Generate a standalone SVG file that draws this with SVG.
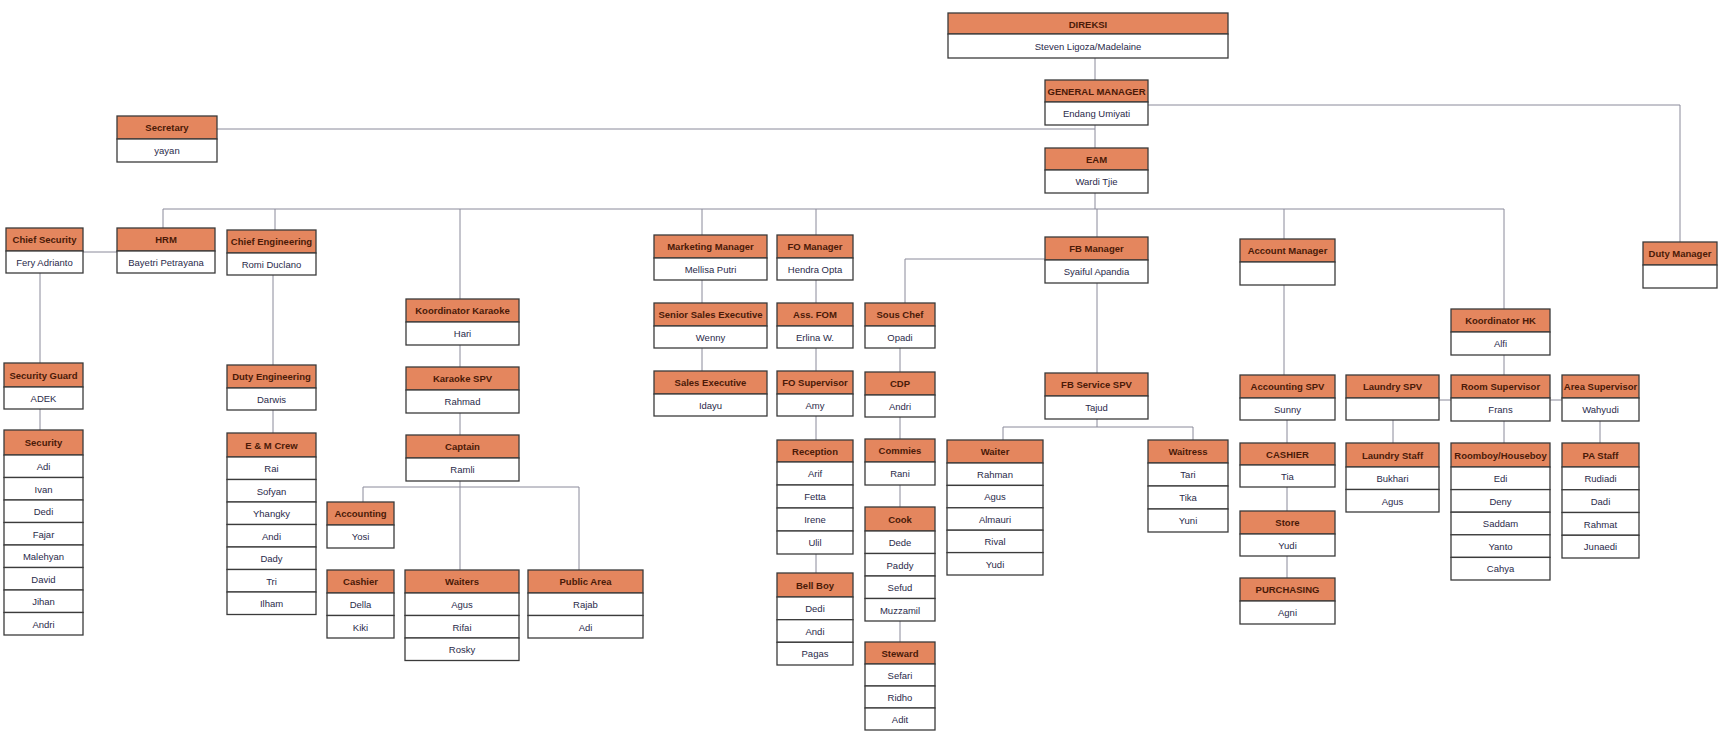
<svg xmlns="http://www.w3.org/2000/svg" width="1724" height="731" viewBox="0 0 1724 731">
<style>
.h{fill:#E4865E;stroke:#3b3b3b;stroke-width:1.3}
.b{fill:#ffffff;stroke:#3b3b3b;stroke-width:1.3}
.ht{font-family:"Liberation Sans Narrow","Liberation Sans",Arial,sans-serif;font-size:9.5px;font-weight:bold;fill:#4a1a08;text-anchor:middle}
.bt{font-family:"Liberation Sans Narrow","Liberation Sans",Arial,sans-serif;font-size:9.5px;fill:#2a2a4a;text-anchor:middle}
.c{fill:none;stroke:#8a8a9a;stroke-width:1}
</style>
<rect width="1724" height="731" fill="#ffffff"/>
<g id="connectors">
<path class="c" d="M1095 58V80M1095 125V148M1095 193V209"/>
<path class="c" d="M217 129H1095"/>
<path class="c" d="M1148 105H1680V242"/>
<path class="c" d="M163 209H1504"/>
<path class="c" d="M163 209V228M275 209V230M83 252H117"/>
<path class="c" d="M40 273V363M40 409V430"/>
<path class="c" d="M273 275V365M273 410V433"/>
<path class="c" d="M460 209V299M460 345V367M460 413V435M460 481V570M363 487H579M363 487V502M579 487V570"/>
<path class="c" d="M702 209V235M702 280V303M702 348V371"/>
<path class="c" d="M816 209V235M816 280V303M816 348V371M816 416V440M816 554V573"/>
<path class="c" d="M1097 209V237M1045 259H905V303M900 348V372M900 417V439M900 485V507M900 621V642"/>
<path class="c" d="M1097 283V373M1097 419V427M1003 427H1193M1003 427V440M1193 427V440"/>
<path class="c" d="M1284 209V239M1284 285V375M1287 420V443M1287 487V511M1287 556V578"/>
<path class="c" d="M1504 209V309M1504 355V375M1439 400H1451M1550 400H1562M1504 421V443M1393 420V443M1600 421V443"/>
</g>
<g id="direksi"><rect class="h" x="948" y="13" width="280" height="21"/><rect class="b" x="948" y="34" width="280" height="24"/><text class="ht" x="1088" y="27.5">DIREKSI</text><text class="bt" x="1088" y="49.5">Steven Ligoza/Madelaine</text></g>
<g id="gm"><rect class="h" x="1045" y="80" width="103" height="22"/><rect class="b" x="1045" y="102" width="103" height="23"/><text class="ht" x="1096.5" y="94.5">GENERAL MANAGER</text><text class="bt" x="1096.5" y="117">Endang Umiyati</text></g>
<g id="eam"><rect class="h" x="1045" y="148" width="103" height="22"/><rect class="b" x="1045" y="170" width="103" height="23"/><text class="ht" x="1096.5" y="162.5">EAM</text><text class="bt" x="1096.5" y="185">Wardi Tjie</text></g>
<g id="secretary"><rect class="h" x="117" y="116" width="100" height="23"/><rect class="b" x="117" y="139" width="100" height="23"/><text class="ht" x="167" y="131">Secretary</text><text class="bt" x="167" y="154">yayan</text></g>
<g id="chief-security"><rect class="h" x="6" y="228" width="77" height="23"/><rect class="b" x="6" y="251" width="77" height="22"/><text class="ht" x="44.5" y="243">Chief Security</text><text class="bt" x="44.5" y="265.5">Fery Adrianto</text></g>
<g id="hrm"><rect class="h" x="117" y="228" width="98" height="23"/><rect class="b" x="117" y="251" width="98" height="22"/><text class="ht" x="166" y="243">HRM</text><text class="bt" x="166" y="265.5">Bayetri Petrayana</text></g>
<g id="chief-eng"><rect class="h" x="227" y="230" width="89" height="23"/><rect class="b" x="227" y="253" width="89" height="22"/><text class="ht" x="271.5" y="245">Chief Engineering</text><text class="bt" x="271.5" y="267.5">Romi Duclano</text></g>
<g id="security-guard"><rect class="h" x="4" y="363" width="79" height="24"/><rect class="b" x="4" y="387" width="79" height="22"/><text class="ht" x="43.5" y="378.5">Security Guard</text><text class="bt" x="43.5" y="401.5">ADEK</text></g>
<g id="security"><rect class="h" x="4" y="430" width="79" height="25"/>
<rect class="b" x="4" y="455" width="79" height="22.5"/><rect class="b" x="4" y="477.5" width="79" height="22.5"/><rect class="b" x="4" y="500" width="79" height="22.5"/><rect class="b" x="4" y="522.5" width="79" height="22.5"/><rect class="b" x="4" y="545" width="79" height="22.5"/><rect class="b" x="4" y="567.5" width="79" height="22.5"/><rect class="b" x="4" y="590" width="79" height="22.5"/><rect class="b" x="4" y="612.5" width="79" height="22.5"/>
<text class="ht" x="43.5" y="446">Security</text>
<text class="bt" x="43.5" y="470">Adi</text><text class="bt" x="43.5" y="492.5">Ivan</text><text class="bt" x="43.5" y="515">Dedi</text><text class="bt" x="43.5" y="537.5">Fajar</text><text class="bt" x="43.5" y="560">Malehyan</text><text class="bt" x="43.5" y="582.5">David</text><text class="bt" x="43.5" y="605">Jihan</text><text class="bt" x="43.5" y="627.5">Andri</text></g>
<g id="duty-eng"><rect class="h" x="227" y="365" width="89" height="23"/><rect class="b" x="227" y="388" width="89" height="22"/><text class="ht" x="271.5" y="380">Duty Engineering</text><text class="bt" x="271.5" y="402.5">Darwis</text></g>
<g id="em-crew"><rect class="h" x="227" y="433" width="89" height="24"/>
<rect class="b" x="227" y="457" width="89" height="22.5"/><rect class="b" x="227" y="479.5" width="89" height="22.5"/><rect class="b" x="227" y="502" width="89" height="22.5"/><rect class="b" x="227" y="524.5" width="89" height="22.5"/><rect class="b" x="227" y="547" width="89" height="22.5"/><rect class="b" x="227" y="569.5" width="89" height="22.5"/><rect class="b" x="227" y="592" width="89" height="22.5"/>
<text class="ht" x="271.5" y="448.5">E &amp; M Crew</text>
<text class="bt" x="271.5" y="472">Rai</text><text class="bt" x="271.5" y="494.5">Sofyan</text><text class="bt" x="271.5" y="517">Yhangky</text><text class="bt" x="271.5" y="539.5">Andi</text><text class="bt" x="271.5" y="562">Dady</text><text class="bt" x="271.5" y="584.5">Tri</text><text class="bt" x="271.5" y="607">Ilham</text></g>
<g id="koord-karaoke"><rect class="h" x="406" y="299" width="113" height="23"/><rect class="b" x="406" y="322" width="113" height="23"/><text class="ht" x="462.5" y="314">Koordinator Karaoke</text><text class="bt" x="462.5" y="337">Hari</text></g>
<g id="karaoke-spv"><rect class="h" x="406" y="367" width="113" height="23"/><rect class="b" x="406" y="390" width="113" height="23"/><text class="ht" x="462.5" y="382">Karaoke SPV</text><text class="bt" x="462.5" y="405">Rahmad</text></g>
<g id="captain"><rect class="h" x="406" y="435" width="113" height="23"/><rect class="b" x="406" y="458" width="113" height="23"/><text class="ht" x="462.5" y="450">Captain</text><text class="bt" x="462.5" y="473">Ramli</text></g>
<g id="accounting"><rect class="h" x="327" y="502" width="67" height="23"/><rect class="b" x="327" y="525" width="67" height="23"/><text class="ht" x="360.5" y="517">Accounting</text><text class="bt" x="360.5" y="540">Yosi</text></g>
<g id="cashier"><rect class="h" x="327" y="570" width="67" height="23"/><rect class="b" x="327" y="593" width="67" height="22.5"/><rect class="b" x="327" y="615.5" width="67" height="22.5"/><text class="ht" x="360.5" y="585">Cashier</text><text class="bt" x="360.5" y="608">Della</text><text class="bt" x="360.5" y="630.5">Kiki</text></g>
<g id="waiters"><rect class="h" x="405" y="570" width="114" height="23"/><rect class="b" x="405" y="593" width="114" height="22.5"/><rect class="b" x="405" y="615.5" width="114" height="22.5"/><rect class="b" x="405" y="638" width="114" height="22.5"/><text class="ht" x="462" y="585">Waiters</text><text class="bt" x="462" y="608">Agus</text><text class="bt" x="462" y="630.5">Rifai</text><text class="bt" x="462" y="653">Rosky</text></g>
<g id="public-area"><rect class="h" x="528" y="570" width="115" height="23"/><rect class="b" x="528" y="593" width="115" height="22.5"/><rect class="b" x="528" y="615.5" width="115" height="22.5"/><text class="ht" x="585.5" y="585">Public Area</text><text class="bt" x="585.5" y="608">Rajab</text><text class="bt" x="585.5" y="630.5">Adi</text></g>
<g id="marketing"><rect class="h" x="654" y="235" width="113" height="23"/><rect class="b" x="654" y="258" width="113" height="22"/><text class="ht" x="710.5" y="250">Marketing Manager</text><text class="bt" x="710.5" y="272.5">Mellisa Putri</text></g>
<g id="senior-sales"><rect class="h" x="654" y="303" width="113" height="23"/><rect class="b" x="654" y="326" width="113" height="22"/><text class="ht" x="710.5" y="318">Senior Sales Executive</text><text class="bt" x="710.5" y="340.5">Wenny</text></g>
<g id="sales-exec"><rect class="h" x="654" y="371" width="113" height="23"/><rect class="b" x="654" y="394" width="113" height="22"/><text class="ht" x="710.5" y="386">Sales Executive</text><text class="bt" x="710.5" y="408.5">Idayu</text></g>
<g id="fo-manager"><rect class="h" x="777" y="235" width="76" height="23"/><rect class="b" x="777" y="258" width="76" height="22"/><text class="ht" x="815" y="250">FO Manager</text><text class="bt" x="815" y="272.5">Hendra Opta</text></g>
<g id="ass-fom"><rect class="h" x="777" y="303" width="76" height="23"/><rect class="b" x="777" y="326" width="76" height="22"/><text class="ht" x="815" y="318">Ass. FOM</text><text class="bt" x="815" y="340.5">Erlina W.</text></g>
<g id="fo-supervisor"><rect class="h" x="777" y="371" width="76" height="23"/><rect class="b" x="777" y="394" width="76" height="22"/><text class="ht" x="815" y="386">FO Supervisor</text><text class="bt" x="815" y="408.5">Amy</text></g>
<g id="reception"><rect class="h" x="777" y="440" width="76" height="22"/><rect class="b" x="777" y="462" width="76" height="23"/><rect class="b" x="777" y="485" width="76" height="23"/><rect class="b" x="777" y="508" width="76" height="23"/><rect class="b" x="777" y="531" width="76" height="23"/><text class="ht" x="815" y="454.5">Reception</text><text class="bt" x="815" y="477">Arif</text><text class="bt" x="815" y="500">Fetta</text><text class="bt" x="815" y="523">Irene</text><text class="bt" x="815" y="546">Ulil</text></g>
<g id="bell-boy"><rect class="h" x="777" y="573" width="76" height="24"/><rect class="b" x="777" y="597" width="76" height="22.7"/><rect class="b" x="777" y="619.7" width="76" height="22.6"/><rect class="b" x="777" y="642.3" width="76" height="22.7"/><text class="ht" x="815" y="588.5">Bell Boy</text><text class="bt" x="815" y="612">Dedi</text><text class="bt" x="815" y="634.5">Andi</text><text class="bt" x="815" y="657">Pagas</text></g>
<g id="sous-chef"><rect class="h" x="865" y="303" width="70" height="23"/><rect class="b" x="865" y="326" width="70" height="22"/><text class="ht" x="900" y="318">Sous Chef</text><text class="bt" x="900" y="340.5">Opadi</text></g>
<g id="cdp"><rect class="h" x="865" y="372" width="70" height="23"/><rect class="b" x="865" y="395" width="70" height="22"/><text class="ht" x="900" y="387">CDP</text><text class="bt" x="900" y="409.5">Andri</text></g>
<g id="commies"><rect class="h" x="865" y="439" width="70" height="23"/><rect class="b" x="865" y="462" width="70" height="23"/><text class="ht" x="900" y="454">Commies</text><text class="bt" x="900" y="477">Rani</text></g>
<g id="cook"><rect class="h" x="865" y="507" width="70" height="24"/><rect class="b" x="865" y="531" width="70" height="22.5"/><rect class="b" x="865" y="553.5" width="70" height="22.5"/><rect class="b" x="865" y="576" width="70" height="22.5"/><rect class="b" x="865" y="598.5" width="70" height="22.5"/><text class="ht" x="900" y="522.5">Cook</text><text class="bt" x="900" y="546">Dede</text><text class="bt" x="900" y="568.5">Paddy</text><text class="bt" x="900" y="591">Sefud</text><text class="bt" x="900" y="613.5">Muzzamil</text></g>
<g id="steward"><rect class="h" x="865" y="642" width="70" height="22"/><rect class="b" x="865" y="664" width="70" height="22"/><rect class="b" x="865" y="686" width="70" height="22"/><rect class="b" x="865" y="708" width="70" height="22"/><text class="ht" x="900" y="656.5">Steward</text><text class="bt" x="900" y="678.5">Sefari</text><text class="bt" x="900" y="700.5">Ridho</text><text class="bt" x="900" y="722.5">Adit</text></g>
<g id="fb-manager"><rect class="h" x="1045" y="237" width="103" height="23"/><rect class="b" x="1045" y="260" width="103" height="23"/><text class="ht" x="1096.5" y="252">FB Manager</text><text class="bt" x="1096.5" y="275">Syaiful Apandia</text></g>
<g id="fb-service"><rect class="h" x="1045" y="373" width="103" height="23"/><rect class="b" x="1045" y="396" width="103" height="23"/><text class="ht" x="1096.5" y="388">FB Service SPV</text><text class="bt" x="1096.5" y="411">Tajud</text></g>
<g id="waiter"><rect class="h" x="947" y="440" width="96" height="23"/><rect class="b" x="947" y="463" width="96" height="22.4"/><rect class="b" x="947" y="485.4" width="96" height="22.4"/><rect class="b" x="947" y="507.8" width="96" height="22.4"/><rect class="b" x="947" y="530.2" width="96" height="22.4"/><rect class="b" x="947" y="552.6" width="96" height="22.4"/><text class="ht" x="995" y="455">Waiter</text><text class="bt" x="995" y="478">Rahman</text><text class="bt" x="995" y="500.4">Agus</text><text class="bt" x="995" y="522.8">Almauri</text><text class="bt" x="995" y="545.2">Rival</text><text class="bt" x="995" y="567.6">Yudi</text></g>
<g id="waitress"><rect class="h" x="1148" y="440" width="80" height="23"/><rect class="b" x="1148" y="463" width="80" height="23"/><rect class="b" x="1148" y="486" width="80" height="23"/><rect class="b" x="1148" y="509" width="80" height="23"/><text class="ht" x="1188" y="455">Waitress</text><text class="bt" x="1188" y="478">Tari</text><text class="bt" x="1188" y="501">Tika</text><text class="bt" x="1188" y="524">Yuni</text></g>
<g id="account-manager"><rect class="h" x="1240" y="239" width="95" height="23"/><rect class="b" x="1240" y="262" width="95" height="23"/><text class="ht" x="1287.5" y="254">Account Manager</text></g>
<g id="accounting-spv"><rect class="h" x="1240" y="375" width="95" height="23"/><rect class="b" x="1240" y="398" width="95" height="22"/><text class="ht" x="1287.5" y="390">Accounting SPV</text><text class="bt" x="1287.5" y="412.5">Sunny</text></g>
<g id="cashier-2"><rect class="h" x="1240" y="443" width="95" height="22"/><rect class="b" x="1240" y="465" width="95" height="22"/><text class="ht" x="1287.5" y="457.5">CASHIER</text><text class="bt" x="1287.5" y="479.5">Tia</text></g>
<g id="store"><rect class="h" x="1240" y="511" width="95" height="23"/><rect class="b" x="1240" y="534" width="95" height="22"/><text class="ht" x="1287.5" y="526">Store</text><text class="bt" x="1287.5" y="548.5">Yudi</text></g>
<g id="purchasing"><rect class="h" x="1240" y="578" width="95" height="23"/><rect class="b" x="1240" y="601" width="95" height="23"/><text class="ht" x="1287.5" y="593">PURCHASING</text><text class="bt" x="1287.5" y="616">Agni</text></g>
<g id="laundry-spv"><rect class="h" x="1346" y="375" width="93" height="23"/><rect class="b" x="1346" y="398" width="93" height="22"/><text class="ht" x="1392.5" y="390">Laundry SPV</text></g>
<g id="laundry-staff"><rect class="h" x="1346" y="443" width="93" height="24"/><rect class="b" x="1346" y="467" width="93" height="22.5"/><rect class="b" x="1346" y="489.5" width="93" height="22.5"/><text class="ht" x="1392.5" y="458.5">Laundry Staff</text><text class="bt" x="1392.5" y="482">Bukhari</text><text class="bt" x="1392.5" y="504.5">Agus</text></g>
<g id="koord-hk"><rect class="h" x="1451" y="309" width="99" height="23"/><rect class="b" x="1451" y="332" width="99" height="23"/><text class="ht" x="1500.5" y="324">Koordinator HK</text><text class="bt" x="1500.5" y="347">Alfi</text></g>
<g id="room-spv"><rect class="h" x="1451" y="375" width="99" height="23"/><rect class="b" x="1451" y="398" width="99" height="23"/><text class="ht" x="1500.5" y="390">Room Supervisor</text><text class="bt" x="1500.5" y="413">Frans</text></g>
<g id="roomboy"><rect class="h" x="1451" y="443" width="99" height="24"/><rect class="b" x="1451" y="467" width="99" height="22.6"/><rect class="b" x="1451" y="489.6" width="99" height="22.6"/><rect class="b" x="1451" y="512.2" width="99" height="22.6"/><rect class="b" x="1451" y="534.8" width="99" height="22.6"/><rect class="b" x="1451" y="557.4" width="99" height="22.6"/><text class="ht" x="1500.5" y="458.5">Roomboy/Houseboy</text><text class="bt" x="1500.5" y="482">Edi</text><text class="bt" x="1500.5" y="504.6">Deny</text><text class="bt" x="1500.5" y="527.2">Saddam</text><text class="bt" x="1500.5" y="549.8">Yanto</text><text class="bt" x="1500.5" y="572.4">Cahya</text></g>
<g id="area-spv"><rect class="h" x="1562" y="375" width="77" height="23"/><rect class="b" x="1562" y="398" width="77" height="23"/><text class="ht" x="1600.5" y="390">Area Supervisor</text><text class="bt" x="1600.5" y="413">Wahyudi</text></g>
<g id="pa-staff"><rect class="h" x="1562" y="443" width="77" height="24"/><rect class="b" x="1562" y="467" width="77" height="22.75"/><rect class="b" x="1562" y="489.75" width="77" height="22.75"/><rect class="b" x="1562" y="512.5" width="77" height="22.75"/><rect class="b" x="1562" y="535.25" width="77" height="22.75"/><text class="ht" x="1600.5" y="458.5">PA Staff</text><text class="bt" x="1600.5" y="482">Rudiadi</text><text class="bt" x="1600.5" y="504.75">Dadi</text><text class="bt" x="1600.5" y="527.5">Rahmat</text><text class="bt" x="1600.5" y="550.25">Junaedi</text></g>
<g id="duty-manager"><rect class="h" x="1643" y="242" width="74" height="23"/><rect class="b" x="1643" y="265" width="74" height="23"/><text class="ht" x="1680" y="257">Duty Manager</text></g>
</svg>
